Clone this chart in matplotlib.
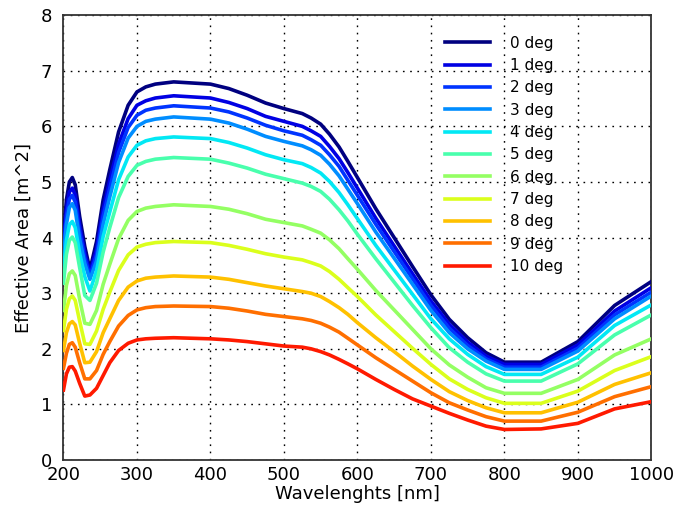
import matplotlib
matplotlib.use("Agg")
import matplotlib.pyplot as plt
import numpy as np

wavelength = [200, 204, 208, 212, 216, 222, 229, 236, 245, 254, 263, 275, 288, 300, 312,
              325, 350, 400, 425, 450, 475, 500, 525, 537, 550, 562, 575, 587, 600, 625, 650, 675,
              700, 725, 750, 775, 800, 850, 900, 950, 1000]

deg0 = [4.02, 4.68, 5.00, 5.08, 4.95, 4.38, 3.84, 3.42, 3.93, 4.68, 5.22, 5.90, 6.38, 6.62, 6.71,
        6.76, 6.80, 6.76, 6.68, 6.56, 6.42, 6.32, 6.23, 6.15, 6.04, 5.86, 5.63, 5.37, 5.08, 4.52, 4.00, 3.48,
        2.97, 2.53, 2.20, 1.93, 1.76, 1.76, 2.13, 2.78, 3.21]
deg1 = [3.87, 4.51, 4.82, 4.89, 4.77, 4.22, 3.72, 3.37, 3.79, 4.51, 5.03, 5.68, 6.14, 6.38, 6.46,
        6.51, 6.55, 6.51, 6.43, 6.32, 6.18, 6.09, 6.00, 5.92, 5.82, 5.64, 5.42, 5.17, 4.89, 4.35, 3.85, 3.35,
        2.86, 2.44, 2.12, 1.87, 1.72, 1.72, 2.07, 2.68, 3.10]
deg2 = [3.77, 4.39, 4.69, 4.76, 4.64, 4.10, 3.63, 3.31, 3.69, 4.39, 4.89, 5.53, 5.98, 6.20, 6.29,
        6.33, 6.37, 6.33, 6.26, 6.15, 6.02, 5.92, 5.84, 5.76, 5.66, 5.49, 5.28, 5.03, 4.76, 4.24, 3.75, 3.26,
        2.78, 2.37, 2.06, 1.82, 1.67, 1.67, 2.01, 2.61, 3.02]
deg3 = [3.65, 4.24, 4.54, 4.61, 4.49, 3.97, 3.53, 3.25, 3.58, 4.24, 4.73, 5.35, 5.79, 6.00, 6.09,
        6.13, 6.17, 6.13, 6.06, 5.95, 5.82, 5.73, 5.65, 5.58, 5.48, 5.32, 5.11, 4.87, 4.61, 4.10, 3.63, 3.16,
        2.69, 2.29, 2.00, 1.78, 1.63, 1.63, 1.96, 2.54, 2.95]
deg4 = [3.40, 3.95, 4.23, 4.29, 4.18, 3.72, 3.30, 3.04, 3.40, 4.02, 4.46, 5.04, 5.45, 5.66, 5.74,
        5.78, 5.81, 5.78, 5.71, 5.61, 5.49, 5.40, 5.33, 5.26, 5.16, 5.01, 4.81, 4.59, 4.34, 3.86, 3.42, 2.98,
        2.54, 2.18, 1.90, 1.68, 1.54, 1.54, 1.85, 2.42, 2.79]
deg5 = [3.18, 3.70, 3.95, 4.01, 3.91, 3.46, 2.96, 2.87, 3.18, 3.74, 4.18, 4.72, 5.10, 5.30, 5.37,
        5.41, 5.44, 5.41, 5.34, 5.25, 5.14, 5.06, 4.98, 4.92, 4.83, 4.69, 4.50, 4.30, 4.06, 3.62, 3.20, 2.78,
        2.38, 2.02, 1.76, 1.55, 1.42, 1.42, 1.73, 2.25, 2.61]
deg6 = [2.69, 3.14, 3.35, 3.40, 3.32, 2.89, 2.46, 2.44, 2.69, 3.16, 3.52, 3.98, 4.31, 4.47, 4.53,
        4.56, 4.59, 4.56, 4.51, 4.43, 4.33, 4.27, 4.21, 4.15, 4.08, 3.96, 3.80, 3.62, 3.43, 3.05, 2.70, 2.35,
        2.00, 1.71, 1.49, 1.30, 1.20, 1.20, 1.45, 1.89, 2.18]
deg7 = [2.33, 2.71, 2.90, 2.95, 2.87, 2.50, 2.09, 2.08, 2.32, 2.71, 3.02, 3.41, 3.69, 3.83, 3.88,
        3.91, 3.93, 3.91, 3.86, 3.79, 3.71, 3.65, 3.60, 3.55, 3.49, 3.39, 3.25, 3.10, 2.94, 2.61, 2.31, 2.01,
        1.72, 1.46, 1.27, 1.12, 1.02, 1.02, 1.24, 1.61, 1.86]
deg8 = [1.97, 2.29, 2.45, 2.49, 2.43, 2.10, 1.75, 1.76, 1.95, 2.29, 2.54, 2.87, 3.11, 3.22, 3.27,
        3.29, 3.31, 3.29, 3.25, 3.19, 3.13, 3.08, 3.03, 3.00, 2.94, 2.85, 2.74, 2.62, 2.47, 2.20, 1.95, 1.69,
        1.45, 1.23, 1.07, 0.94, 0.85, 0.85, 1.04, 1.36, 1.57]
deg9 = [1.65, 1.92, 2.08, 2.11, 2.03, 1.75, 1.46, 1.46, 1.61, 1.90, 2.13, 2.41, 2.60, 2.70, 2.74,
        2.76, 2.77, 2.76, 2.73, 2.68, 2.62, 2.58, 2.54, 2.51, 2.46, 2.39, 2.30, 2.19, 2.07, 1.84, 1.63, 1.42,
        1.21, 1.03, 0.90, 0.78, 0.70, 0.70, 0.86, 1.14, 1.32]
deg10 = [1.26, 1.55, 1.67, 1.68, 1.60, 1.38, 1.15, 1.17, 1.29, 1.52, 1.75, 1.97, 2.10, 2.16, 2.18,
         2.19, 2.20, 2.18, 2.16, 2.13, 2.09, 2.05, 2.03, 2.00, 1.95, 1.89, 1.81, 1.73, 1.64, 1.45, 1.27, 1.10,
         0.97, 0.84, 0.72, 0.61, 0.55, 0.56, 0.66, 0.92, 1.05]

series = [deg0, deg1, deg2, deg3, deg4, deg5, deg6, deg7, deg8, deg9, deg10]
labels = ["0 deg", "1 deg", "2 deg", "3 deg", "4 deg", "5 deg",
          "6 deg", "7 deg", "8 deg", "9 deg", "10 deg"]

plt.rcParams['font.family'] = ['DejaVu Sans']

fig = plt.figure(figsize=(6.9, 5.05), dpi=100)
ax = fig.add_axes([0.092, 0.089, 0.852, 0.881])

colors = plt.cm.jet(np.linspace(0, 0.88, len(series)))
for vals, lab, c in zip(series, labels, colors):
    ax.plot(wavelength, vals, color=c, lw=2.6, label=lab, zorder=3,
            solid_joinstyle='round')

ax.set_xlim(200, 1000)
ax.set_ylim(0, 8)
ax.set_xticks([200, 300, 400, 500, 600, 700, 800, 900, 1000])
ax.set_yticks([0, 1, 2, 3, 4, 5, 6, 7, 8])
ax.grid(True, color='black', linestyle=(0, (1.2, 4.0)), linewidth=1.0, zorder=1)
ax.set_axisbelow(True)
ax.tick_params(axis='both', length=0, labelsize=13)
ax.tick_params(axis='y', pad=8)
ax.tick_params(axis='x', pad=4)
for s in ax.spines.values():
    s.set_color('#333333')
    s.set_linewidth(1.3)

ax.set_xlabel("Wavelenghts [nm]", fontsize=13, labelpad=1)
ax.set_ylabel("Effective Area [m^2]", fontsize=13, labelpad=6)

leg = ax.legend(loc='upper left', bbox_to_anchor=(0.625, 0.985), frameon=False,
                fontsize=11, handlelength=3.0, labelspacing=0.48, handletextpad=1.3)

fig.savefig("out.png", dpi=100, facecolor='white')
